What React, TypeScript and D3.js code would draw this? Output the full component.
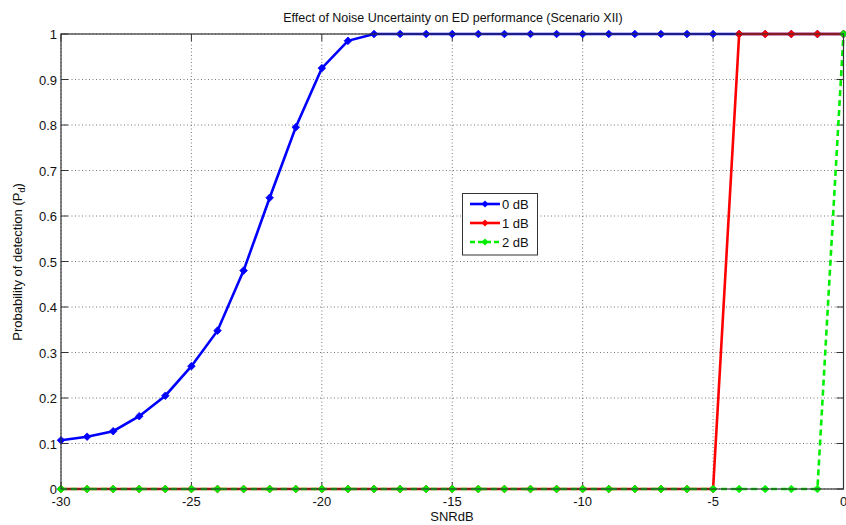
import React from "react";
import * as d3 from "d3";

const snr: number[] = d3.range(-30, 1, 1);
const pd0dB: number[] = [0.107, 0.115, 0.127, 0.16, 0.205, 0.27, 0.348, 0.48, 0.64, 0.795, 0.925, 0.985, 1, 1, 1, 1, 1, 1, 1, 1, 1, 1, 1, 1, 1, 1, 1, 1, 1, 1, 1];
const pd1dB: number[] = [0, 0, 0, 0, 0, 0, 0, 0, 0, 0, 0, 0, 0, 0, 0, 0, 0, 0, 0, 0, 0, 0, 0, 0, 0, 0, 1, 1, 1, 1, 1];
const pd2dB: number[] = [0, 0, 0, 0, 0, 0, 0, 0, 0, 0, 0, 0, 0, 0, 0, 0, 0, 0, 0, 0, 0, 0, 0, 0, 0, 0, 0, 0, 0, 0, 1];
const seriesNames: string[] = ["0 dB", "1 dB", "2 dB"];
const seriesColors: string[] = ["#0000ff", "#ff0000", "#00ee00"];
const xTicks: number[] = [-30, -25, -20, -15, -10, -5, 0];
const yTicks: number[] = d3.range(0, 1.01, 0.1).map((v) => Math.round(v * 10) / 10);

const W = 846, H = 525;
const L = 61, R = 843.5, T = 34, B = 489;

export default function App() {
  const x = d3.scaleLinear().domain([-30, 0]).range([L, R]);
  const y = d3.scaleLinear().domain([0, 1]).range([B, T]);
  const line = d3.line<[number, number]>().x((d) => x(d[0])).y((d) => y(d[1]));
  const all = [pd0dB, pd1dB, pd2dB];
  const font = "Liberation Sans, Arial, sans-serif";
  const diamond = (cx: number, cy: number, s: number) =>
    `M${cx},${cy - s}L${cx + s},${cy}L${cx},${cy + s}L${cx - s},${cy}Z`;

  return (
    <svg width={W} height={H} style={{ position: "absolute", left: 0, top: 0, background: "#fff" }}>
      <rect x={0} y={0} width={W} height={H} fill="#fff" />
      {/* grid */}
      {xTicks.map((t) => (
        <line key={"gx" + t} x1={x(t)} x2={x(t)} y1={T} y2={B} stroke="#555" strokeWidth={0.8} strokeDasharray="1,2.5" />
      ))}
      {yTicks.map((t) => (
        <line key={"gy" + t} x1={L} x2={R} y1={y(t)} y2={y(t)} stroke="#555" strokeWidth={0.8} strokeDasharray="1,2.5" />
      ))}
      {/* ticks */}
      {xTicks.map((t) => (
        <g key={"tx" + t}>
          <line x1={x(t)} x2={x(t)} y1={B} y2={B - 7} stroke="#333" />
          <line x1={x(t)} x2={x(t)} y1={T} y2={T + 7} stroke="#333" />
          <text x={x(t)} y={B + 17} textAnchor="middle" fontFamily={font} fontSize={13} fill="#111">{t}</text>
        </g>
      ))}
      {yTicks.map((t) => (
        <g key={"ty" + t}>
          <line x1={L} x2={L + 7} y1={y(t)} y2={y(t)} stroke="#333" />
          <line x1={R} x2={R - 7} y1={y(t)} y2={y(t)} stroke="#333" />
          <text x={L - 4} y={y(t) + 5} textAnchor="end" fontFamily={font} fontSize={13} fill="#111">{t}</text>
        </g>
      ))}
      {/* series */}
      {all.map((vals, i) => {
        const pts: [number, number][] = snr.map((s, j) => [s, vals[j]]);
        return (
          <g key={"s" + i}>
            <path d={line(pts) || ""} fill="none" stroke={seriesColors[i]} strokeWidth={2.6}
              strokeDasharray={i === 2 ? "6,4" : undefined} />
            {pts.map((p, j) => (
              <path key={j} d={diamond(x(p[0]), y(p[1]), 3.8)} fill={seriesColors[i]} stroke={seriesColors[i]} strokeWidth={0.8} />
            ))}
          </g>
        );
      })}
      {/* axes box */}
      <rect x={L} y={T} width={R - L} height={B - T} fill="none" stroke="#333" strokeWidth={1.2} />
      {/* title */}
      <text x={453} y={22} textAnchor="middle" fontFamily={font} fontSize={12.5} fill="#111">
        Effect of Noise Uncertainty on ED performance (Scenario XII)
      </text>
      <text x={452} y={521} textAnchor="middle" fontFamily={font} fontSize={13} fill="#111">SNRdB</text>
      <text transform={`translate(22,${262}) rotate(-90)`} textAnchor="middle" fontFamily={font} fontSize={13} fill="#111">
        Probability of detection (P<tspan fontSize={9} dy={3}>d</tspan><tspan dy={-3}>)</tspan>
      </text>
      {/* legend */}
      <rect x={462.5} y={193.5} width={75} height={61.5} fill="#fff" stroke="#333" strokeWidth={1} />
      {seriesNames.map((n, i) => {
        const ly = 204 + i * 19;
        return (
          <g key={"lg" + i}>
            <line x1={470} x2={500} y1={ly} y2={ly} stroke={seriesColors[i]} strokeWidth={2.6}
              strokeDasharray={i === 2 ? "5,3" : undefined} />
            <path d={diamond(485, ly, 3.5)} fill={seriesColors[i]} />
            <text x={502} y={ly + 5} fontFamily={font} fontSize={13} fill="#111">{n}</text>
          </g>
        );
      })}
    </svg>
  );
}
